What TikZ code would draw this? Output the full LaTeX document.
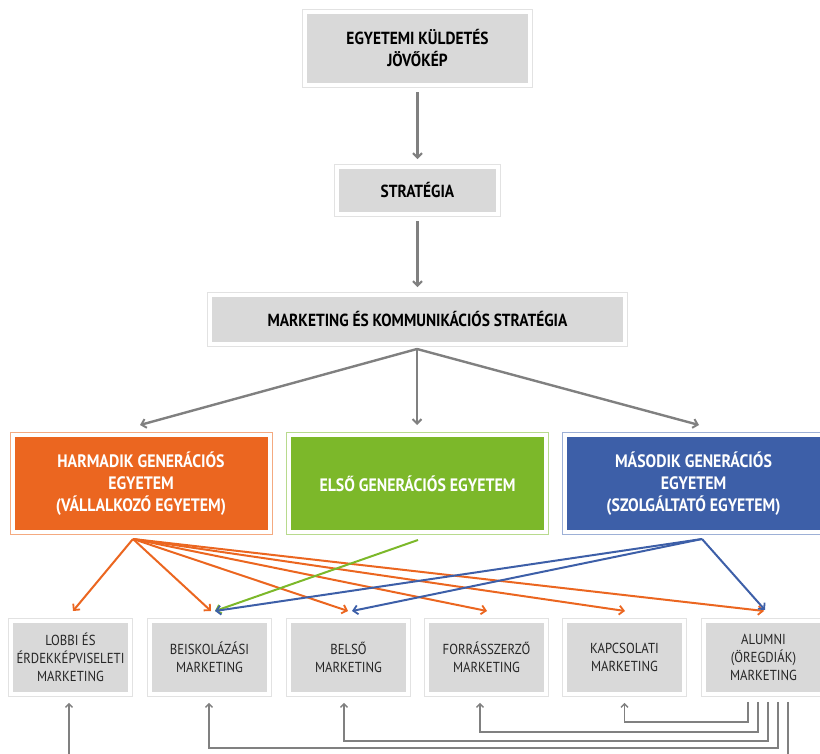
\documentclass[tikz,border=0pt]{standalone}
\usepackage{fontspec}
\setmainfont{PT Sans}[FakeStretch=0.88]
\usetikzlibrary{arrows.meta,fit,calc}
\definecolor{boxgray}{HTML}{D9D9D9}
\definecolor{framegray}{HTML}{E2E2E2}
\definecolor{arrgray}{HTML}{808080}
\definecolor{org}{HTML}{EB6620}
\definecolor{orgframe}{HTML}{F4AA80}
\definecolor{grn}{HTML}{7CB82A}
\definecolor{grnframe}{HTML}{B8DA8E}
\definecolor{blu}{HTML}{3D5FA8}
\definecolor{bluframe}{HTML}{9DB0D6}
\begin{document}
\begin{tikzpicture}[x=1pt,y=-1pt,
  topbox/.style={fill=boxgray, text=black, align=center, inner sep=0pt,
    font=\fontsize{17.5}{22}\selectfont\bfseries},
  genbox/.style={fill=#1, text=white, align=center, inner sep=0pt,
    minimum width=253, minimum height=93,
    font=\fontsize{18}{22}\selectfont\bfseries},
  mbox/.style={fill=boxgray, text=black!85, align=center, inner sep=0pt,
    minimum width=115, minimum height=69,
    font=\fontsize{14.5}{18}\selectfont},
  frame/.style={draw=#1, line width=0.9, inner sep=4.3pt},
  garrow/.style={draw=arrgray, line width=2.4, -{Straight Barb[length=4.5,width=9,line width=2]}},
  carrow/.style={draw=#1, line width=2, -{Straight Barb[length=4.5,width=9,line width=1.8]}},
  farrow/.style={draw=arrgray, line width=1.5, -{Straight Barb[length=3.5,width=7,line width=1.3]}}
]
\useasboundingbox (0,0) rectangle (820,754);
\clip (0,0) rectangle (820,754);

% top chain
\node[topbox, minimum width=221, minimum height=69] (kuld) at (417.5,48.5) {EGYETEMI KÜLDETÉS\\JÖVŐKÉP};
\node[frame=framegray, fit=(kuld)] (kuldf) {};
\node[topbox, minimum width=157, minimum height=43] (strat) at (417.5,190.5) {STRATÉGIA};
\node[frame=framegray, fit=(strat)] (stratf) {};
\node[topbox, minimum width=411, minimum height=45] (mark) at (417.5,319.5) {MARKETING ÉS KOMMUNIKÁCIÓS STRATÉGIA};
\node[frame=framegray, fit=(mark)] (markf) {};

\draw[garrow, shorten <=4.5, shorten >=5] (kuldf.south) -- (stratf.north);
\draw[garrow, shorten <=4.5, shorten >=5] (stratf.south) -- (markf.north);

% generation boxes
\node[genbox=org] (harm) at (141,483.5) {HARMADIK GENERÁCIÓS\\EGYETEM\\(VÁLLALKOZÓ EGYETEM)};
\node[frame=orgframe, fit=(harm)] (harmf) {};
\node[genbox=grn] (elso) at (417.5,483.5) {ELSŐ GENERÁCIÓS EGYETEM};
\node[frame=grnframe, fit=(elso)] (elsof) {};
\node[genbox=blu] (masod) at (693.5,483.5) {MÁSODIK GENERÁCIÓS\\EGYETEM\\(SZOLGÁLTATÓ EGYETEM)};
\node[frame=bluframe, fit=(masod)] (masodf) {};

\coordinate (msrc) at (417,349);
\coordinate (tharm) at (140,425);
\coordinate (telso) at (417,425);
\coordinate (tmasod) at (699,425);
\draw[garrow] (msrc) -- (tharm);
\draw[garrow] (msrc) -- (telso);
\draw[garrow] (msrc) -- (tmasod);

% marketing boxes
\node[mbox] (lobbi) at (70.5,657.5) {LOBBI ÉS\\ÉRDEKKÉPVISELETI\\MARKETING};
\node[frame=framegray, fit=(lobbi)] (lobbif) {};
\node[mbox] (beisk) at (209.5,657.5) {BEISKOLÁZÁSI\\MARKETING};
\node[frame=framegray, fit=(beisk)] (beiskf) {};
\node[mbox] (belso) at (348.5,657.5) {BELSŐ\\MARKETING};
\node[frame=framegray, fit=(belso)] (belsof) {};
\node[mbox] (forras) at (486.5,657.5) {FORRÁSSZERZŐ\\MARKETING};
\node[frame=framegray, fit=(forras)] (forrasf) {};
\node[mbox] (kapcs) at (624.5,657.5) {KAPCSOLATI\\MARKETING};
\node[frame=framegray, fit=(kapcs)] (kapcsf) {};
\node[mbox] (alumni) at (763.5,657.5) {ALUMNI\\(ÖREGDIÁK)\\MARKETING};
\node[frame=framegray, fit=(alumni)] (alumnif) {};

% colored connectors
\coordinate (hsrc) at (133,539);
\coordinate (esrc) at (418,540);
\coordinate (bsrc) at (702,539);
\coordinate (tlobbi) at (73,611);
\coordinate (tbeisk) at (211,611);
\coordinate (tbelso) at (348,611);
\coordinate (tforras) at (487,611);
\coordinate (tkapcs) at (625,611);
\coordinate (talumni) at (764,611);
\coordinate (tbeiskb) at (215,611);
\coordinate (tbelsob) at (352,611);
\coordinate (talumnib) at (765,610);

\foreach \t in {tlobbi,tbeisk,tbelso,tforras,tkapcs,talumni}
  \draw[carrow=org] (hsrc) -- (\t);
\draw[carrow=grn] (esrc) -- (tbeiskb);
\draw[carrow=blu] (bsrc) -- (tbeiskb);
\draw[carrow=blu] (bsrc) -- (tbelsob);
\draw[carrow=blu] (bsrc) -- (talumnib);

% feedback connectors from alumni
\draw[farrow] ([xshift=-15.5]alumnif.south) ++(0,5) |- ++(0,20) -| ([yshift=-6]kapcsf.south);
\draw[farrow] ([xshift=-5.5]alumnif.south) ++(0,5) |- (480,732) -| ([xshift=-6.5,yshift=-6]forrasf.south);
\draw[farrow] ([xshift=4.5]alumnif.south) ++(0,5) |- (344,741) -| ([xshift=-4.5,yshift=-6]belsof.south);
\draw[farrow] ([xshift=14.5]alumnif.south) ++(0,5) |- (209,748) -| ([xshift=-0.5,yshift=-6]beiskf.south);
\draw[farrow] ([xshift=24.5]alumnif.south) ++(0,5) |- (69,762) -| ([xshift=-1.5,yshift=-6]lobbif.south);
\end{tikzpicture}
\end{document}
